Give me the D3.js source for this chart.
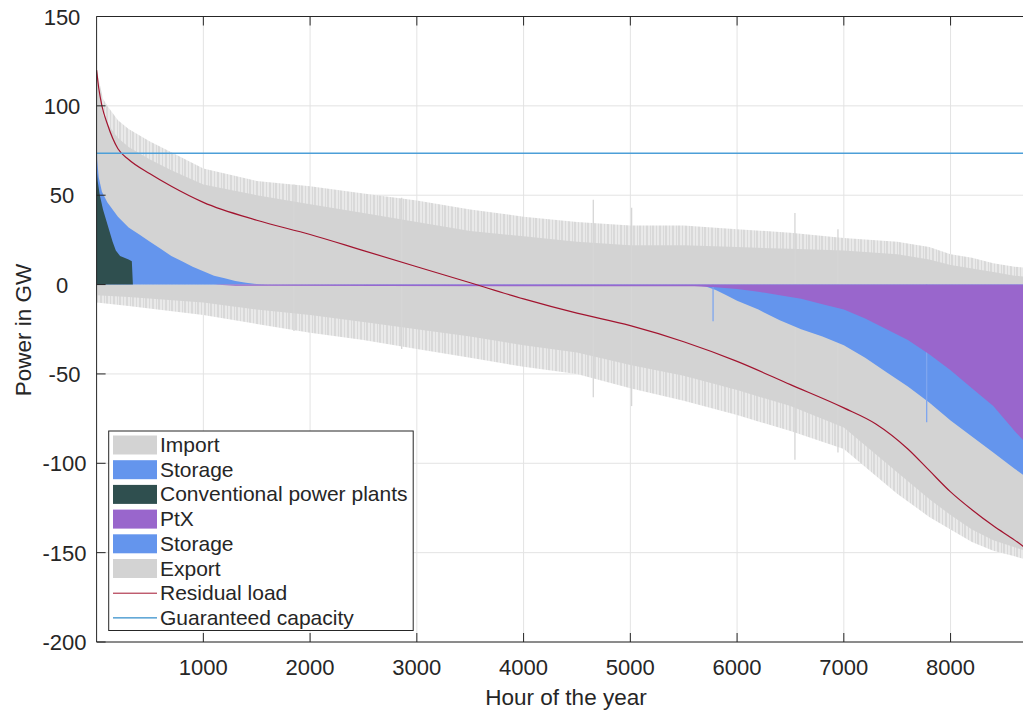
<!doctype html>
<meta charset="utf-8" />
<style>
  body { margin: 0; background: #fff; }
  svg text { font-family: "Liberation Sans", Arial, sans-serif; fill: #262626; }
</style>
<svg></svg>

<script src="https://cdn.jsdelivr.net/npm/d3@7"></script>

<script>
    // values (hour of year, GW)
    var grayTopHours = [0, 30, 60, 100, 200, 300, 500, 700, 1000, 1500, 2000, 2500, 3000, 3500, 4000, 4500, 5000, 5500, 6000, 6500, 7000, 7500, 7800, 8000, 8200, 8400, 8600, 8760];
    var importDense  = [118, 105, 95, 90, 82, 77, 70, 64, 56, 50, 45, 40, 35, 30, 27, 24, 22, 22, 21, 20, 19, 17, 14, 11, 9, 7, 5, 4];
    var importSpikes = [121, 112, 104, 100, 92, 87, 80, 74, 65, 58, 55, 51, 47, 42, 38, 35, 33, 33, 31, 29, 26, 24, 21, 17, 15, 12, 10, 9];

    var grayBottomHours = [0, 300, 1000, 1500, 2000, 2500, 3000, 3500, 4000, 4500, 5000, 5500, 6000, 6500, 7000, 7500, 7800, 8000, 8200, 8400, 8600, 8760];
    var exportDense  = [-6, -7, -10, -14, -17, -21, -25, -29, -34, -38, -45, -51, -59, -68, -80, -105, -120, -129, -137, -143, -147, -150];
    var exportSpikes = [-10, -12, -17, -22, -27, -31, -36, -41, -46, -50, -58, -65, -73, -82, -92, -117, -130, -137, -144, -149, -152, -155];

    var storInHours = [0, 5, 20, 50, 100, 200, 300, 400, 500, 600, 700, 800, 900, 1000, 1100, 1200, 1300, 1400, 1500, 1600];
    var storageIn   = [88, 70, 60, 52, 46, 38, 32, 28, 24, 20, 16, 13, 10, 7.5, 5, 3.5, 2, 1, 0.3, 0];

    var convHours = [0, 10, 30, 60, 90, 120, 150, 180, 220, 260, 300, 330, 340];
    var conventional = [65, 58, 50, 42, 36, 30, 24, 19, 16, 15, 14, 13, 0];

    var storOutHours = [0, 5600, 5700, 5800, 5900, 6000, 6200, 6400, 6600, 6800, 7000, 7200, 7400, 7600, 7800, 8000, 8200, 8400, 8600, 8760];
    var storageOut   = [0, -0.5, -1, -3, -6, -9, -14, -20, -25, -29, -34, -41, -49, -57, -66, -76, -85, -94, -103, -110];

    var ptxHours = [0, 1100, 1300, 5600, 5800, 6000, 6200, 6400, 6600, 6800, 7000, 7200, 7400, 7600, 7800, 8000, 8200, 8400, 8600, 8760];
    var ptx      = [0, 0, -0.7, -1, -1.5, -2.5, -4, -6, -8, -11, -14, -19, -25, -31, -39, -48, -58, -68, -82, -92];

    var resHours = [0, 20, 50, 100, 200, 300, 500, 700, 1000, 1500, 2000, 2500, 3000, 3500, 4000, 4500, 5000, 5500, 6000, 6500, 7000, 7300, 7600, 7800, 8000, 8200, 8400, 8600, 8760];
    var residual = [120, 110, 100, 90, 76, 70, 62, 55, 46, 36, 28, 19, 10, 1, -8, -16, -23, -32, -43, -56, -69, -78, -92, -104, -116, -126, -135, -143, -150];

    var guaranteed = 73.5;

    // single tall spikes visible in the gray band: [hour, top, bottom]
    var spikes = [[1849, 56, -26], [2858, 48.6, -36], [4653, 47.5, -63], [5012, 43, -68], [6542, 40, -98], [6945, 31, -94]];
    var storageSpikes = [[5775, -20.5], [7776, -77]];

    var xTicks = [1000, 2000, 3000, 4000, 5000, 6000, 7000, 8000];
    var yTicks = [-200, -150, -100, -50, 0, 50, 100, 150];

    var legendItems = [
        ['Import', 'area', '#d3d3d3'],
        ['Storage', 'area', '#6495ed'],
        ['Conventional power plants', 'area', '#2f4f4f'],
        ['PtX', 'area', '#9966cc'],
        ['Storage', 'area', '#6495ed'],
        ['Export', 'area', '#d3d3d3'],
        ['Residual load', 'line', '#a2142f'],
        ['Guaranteed capacity', 'line', '#0072bd']
    ];

    var W = 1023, H = 713;
    var svg = d3.select('svg').attr('width', W).attr('height', H);

    var x = d3.scaleLinear().domain([0, 8760]).range([96.6, 1031.7]);
    var y = d3.scaleLinear().domain([-200, 150]).range([642, 16.5]);

    function zip(hs, vs) { return hs.map(function (h, i) { return { h: h, v: vs[i] }; }); }

    var area = d3.area().x(function (d) { return x(d.h); }).y0(y(0)).y1(function (d) { return y(d.v); });
    var line = d3.line().x(function (d) { return x(d.h); }).y(function (d) { return y(d.v); }).curve(d3.curveMonotoneX);

    // striped fill to suggest the hourly spikes at the edge of the gray bands
    var defs = svg.append('defs');
    var pat = defs.append('pattern').attr('id', 'spk').attr('patternUnits', 'userSpaceOnUse')
        .attr('width', 13).attr('height', 4);
    pat.append('rect').attr('width', 13).attr('height', 4).attr('fill', '#e9e9e9');
    [0, 2, 3, 6, 9, 10].forEach(function (p) {
        pat.append('rect').attr('x', p).attr('width', 1).attr('height', 4).attr('fill', '#d9d9d9');
    });

    // grid
    var grid = svg.append('g').attr('stroke', '#e3e3e3').attr('stroke-width', 1);
    xTicks.forEach(function (t) { grid.append('line').attr('x1', x(t)).attr('x2', x(t)).attr('y1', y(150)).attr('y2', y(-200)); });
    yTicks.forEach(function (t) { grid.append('line').attr('x1', x(0)).attr('x2', W).attr('y1', y(t)).attr('y2', y(t)); });

    var plot = svg.append('g');

    // positive side
    plot.append('path').attr('d', area(zip(grayTopHours, importSpikes))).attr('fill', 'url(#spk)');
    plot.append('path').attr('d', area(zip(grayTopHours, importDense))).attr('fill', '#d3d3d3');
    // negative side
    plot.append('path').attr('d', area(zip(grayBottomHours, exportSpikes))).attr('fill', 'url(#spk)');
    plot.append('path').attr('d', area(zip(grayBottomHours, exportDense))).attr('fill', '#d3d3d3');

    spikes.forEach(function (s) {
        plot.append('line').attr('x1', x(s[0])).attr('x2', x(s[0])).attr('y1', y(s[1])).attr('y2', y(s[2]))
            .attr('stroke', '#d6d6d6').attr('stroke-width', 1.3);
    });

    plot.append('path').attr('d', area(zip(storInHours, storageIn))).attr('fill', '#6495ed');
    plot.append('path').attr('d', area(zip(convHours, conventional))).attr('fill', '#2f4f4f');

    plot.append('path').attr('d', area(zip(storOutHours, storageOut))).attr('fill', '#6495ed');
    storageSpikes.forEach(function (s) {
        plot.append('line').attr('x1', x(s[0])).attr('x2', x(s[0])).attr('y1', y(0)).attr('y2', y(s[1]))
            .attr('stroke', '#7ea6ef').attr('stroke-width', 1.3);
    });
    plot.append('path').attr('d', area(zip(ptxHours, ptx))).attr('fill', '#9966cc');

    // lines
    plot.append('path').attr('d', line(zip(resHours, residual))).attr('fill', 'none')
        .attr('stroke', '#a2142f').attr('stroke-width', 1.2);
    plot.append('line').attr('x1', x(0)).attr('x2', W).attr('y1', y(guaranteed)).attr('y2', y(guaranteed))
        .attr('stroke', '#4d9fd8').attr('stroke-width', 1.5);

    // axes box
    var ax = svg.append('g').attr('stroke', '#262626').attr('stroke-width', 1).attr('fill', 'none');
    ax.append('line').attr('x1', x(0)).attr('x2', x(0)).attr('y1', y(150)).attr('y2', y(-200));
    ax.append('line').attr('x1', x(0)).attr('x2', W).attr('y1', y(-200)).attr('y2', y(-200));
    ax.append('line').attr('x1', x(0)).attr('x2', W).attr('y1', y(150)).attr('y2', y(150));
    xTicks.forEach(function (t) {
        ax.append('line').attr('x1', x(t)).attr('x2', x(t)).attr('y1', y(-200)).attr('y2', y(-200) - 9);
        ax.append('line').attr('x1', x(t)).attr('x2', x(t)).attr('y1', y(150)).attr('y2', y(150) + 9);
    });
    yTicks.forEach(function (t) {
        ax.append('line').attr('x1', x(0)).attr('x2', x(0) + 9).attr('y1', y(t)).attr('y2', y(t));
    });

    svg.append('g').selectAll('text').data(xTicks).join('text')
        .attr('x', function (d) { return x(d); }).attr('y', 675)
        .attr('text-anchor', 'middle').attr('font-size', 22).text(function (d) { return d; });
    svg.append('g').selectAll('text').data(yTicks).join('text')
        .attr('x', function (d) { return d < 0 ? 64.5 : 62; }).attr('y', function (d) { return y(d) + 8; })
        .attr('text-anchor', 'middle').attr('font-size', 22).text(function (d) { return d; });

    svg.append('text').attr('x', 566).attr('y', 705).attr('text-anchor', 'middle')
        .attr('font-size', 22.5).text('Hour of the year');
    svg.append('text').attr('transform', 'translate(31,' + 330 + ') rotate(-90)')
        .attr('text-anchor', 'middle').attr('font-size', 22.5).text('Power in GW');

    // legend
    var lg = svg.append('g');
    lg.append('rect').attr('x', 108.7).attr('y', 431).attr('width', 304.5).attr('height', 199.5)
        .attr('fill', '#fff').attr('stroke', '#262626').attr('stroke-width', 1);
    legendItems.forEach(function (it, i) {
        var cy = 445 + i * 24.7;
        if (it[1] === 'area') {
            lg.append('rect').attr('x', 113).attr('y', cy - 9.5).attr('width', 44).attr('height', 19).attr('fill', it[2]);
        } else {
            lg.append('line').attr('x1', 113).attr('x2', 157).attr('y1', cy).attr('y2', cy)
                .attr('stroke', it[2]).attr('stroke-width', 1);
        }
        lg.append('text').attr('x', 160).attr('y', cy + 7).attr('font-size', 21).text(it[0]);
    });
</script>
